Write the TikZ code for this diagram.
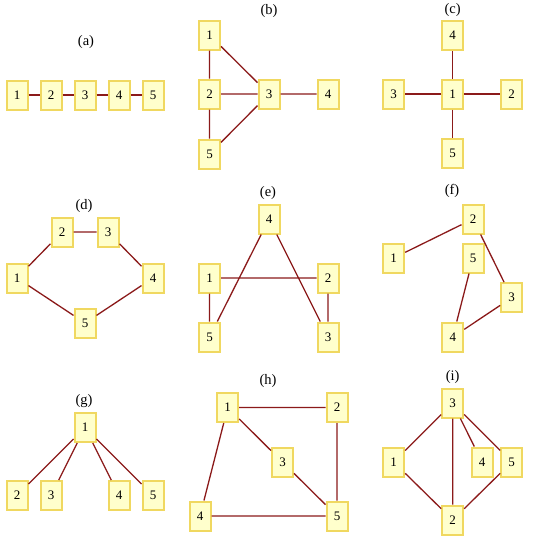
\documentclass[tikz,border=0pt]{standalone}
\usepackage{fontspec}
\setmainfont{Liberation Serif}
\definecolor{boxfill}{RGB}{255,255,204}
\definecolor{boxline}{RGB}{240,216,96}
\definecolor{edgered}{RGB}{139,26,26}
\begin{document}
\begin{tikzpicture}[x=1pt,y=1pt,yscale=-1,xscale=1,
  vbox/.style={draw=boxline,fill=boxfill,line width=2pt,minimum width=21pt,minimum height=29pt,inner sep=0pt,font=\fontsize{13}{15}\selectfont},
  gcap/.style={font=\fontsize{14.5}{16}\selectfont},
  link/.style={draw=edgered,line width=1.3pt}]
\useasboundingbox (0,0) rectangle (540,541);
% Text Node
\node [gcap] (capa) at (86,42) {(a)};
\node [vbox] (a1) at (17,95) {1};
\node [vbox] (a2) at (51,95) {2};
\node [vbox] (a3) at (85,95) {3};
\node [vbox] (a4) at (119,95) {4};
\node [vbox] (a5) at (153,95) {5};
\draw [link] (a1) -- (a2) (a2) -- (a3) (a3) -- (a4) (a4) -- (a5);
% Text Node
\node [gcap] (capb) at (269,11) {(b)};
\node [vbox] (b1) at (209.5,35) {1};
\node [vbox] (b2) at (209.5,94) {2};
\node [vbox] (b3) at (269,94) {3};
\node [vbox] (b4) at (328,94) {4};
\node [vbox] (b5) at (209.5,154) {5};
\draw [link] (b1) -- (b2) (b2) -- (b5) (b1) -- (b3) (b2) -- (b3) (b5) -- (b3) (b3) -- (b4);
% Text Node
\node [gcap] (capc) at (452.7,10) {(c)};
\node [vbox] (c1) at (452.7,94) {1};
\node [vbox] (c2) at (511.7,94) {2};
\node [vbox] (c3) at (393.7,94) {3};
\node [vbox] (c4) at (452.7,35) {4};
\node [vbox] (c5) at (452.7,153) {5};
\draw [link] (c1) -- (c2) (c1) -- (c3) (c1) -- (c4) (c1) -- (c5);
% Text Node
\node [gcap] (capd) at (84,206) {(d)};
\node [vbox] (d1) at (17,278) {1};
\node [vbox] (d2) at (62,232) {2};
\node [vbox] (d3) at (108,232) {3};
\node [vbox] (d4) at (153,278) {4};
\node [vbox] (d5) at (85,323) {5};
\draw [link] (d1) -- (d2) (d2) -- (d3) (d3) -- (d4) (d4) -- (d5) (d5) -- (d1);
% Text Node
\node [gcap] (cape) at (268,193) {(e)};
\node [vbox] (e1) at (209.5,278) {1};
\node [vbox] (e2) at (328,278) {2};
\node [vbox] (e3) at (328,337) {3};
\node [vbox] (e4) at (269,219) {4};
\node [vbox] (e5) at (209.5,337) {5};
\draw [link] (e1) -- (e2) (e2) -- (e3) (e3) -- (e4) (e4) -- (e5) (e5) -- (e1);
% Text Node
\node [gcap] (capf) at (452,191) {(f)};
\node [vbox] (f1) at (393.7,258) {1};
\node [vbox] (f2) at (473,219) {2};
\node [vbox] (f3) at (511.7,297.7) {3};
\node [vbox] (f4) at (452.8,337) {4};
\node [vbox] (f5) at (473,258) {5};
\draw [link] (f1) -- (f2) (f2) -- (f3) (f3) -- (f4) (f4) -- (f5);
% Text Node
\node [gcap] (capg) at (84,401) {(g)};
\node [vbox] (g1) at (85,427.5) {1};
\node [vbox] (g2) at (17,495.5) {2};
\node [vbox] (g3) at (51,495.5) {3};
\node [vbox] (g4) at (119,495.5) {4};
\node [vbox] (g5) at (153,495.5) {5};
\draw [link] (g1) -- (g2) (g1) -- (g3) (g1) -- (g4) (g1) -- (g5);
% Text Node
\node [gcap] (caph) at (268,381) {(h)};
\node [vbox] (h1) at (227.7,407.5) {1};
\node [vbox] (h2) at (337,407.5) {2};
\node [vbox] (h3) at (282.5,462) {3};
\node [vbox] (h4) at (200,516) {4};
\node [vbox] (h5) at (337,516) {5};
\draw [link] (h1) -- (h2) (h2) -- (h5) (h1) -- (h3) (h3) -- (h5) (h1) -- (h4) (h4) -- (h5);
% Text Node
\node [gcap] (capi) at (452.7,377) {(i)};
\node [vbox] (i1) at (393.7,462) {1};
\node [vbox] (i2) at (452.7,520) {2};
\node [vbox] (i3) at (452.7,403) {3};
\node [vbox] (i4) at (482,462) {4};
\node [vbox] (i5) at (511.7,462) {5};
\draw [link] (i3) -- (i1) (i3) -- (i2) (i3) -- (i4) (i3) -- (i5) (i1) -- (i2) (i5) -- (i2);
\end{tikzpicture}
\end{document}
